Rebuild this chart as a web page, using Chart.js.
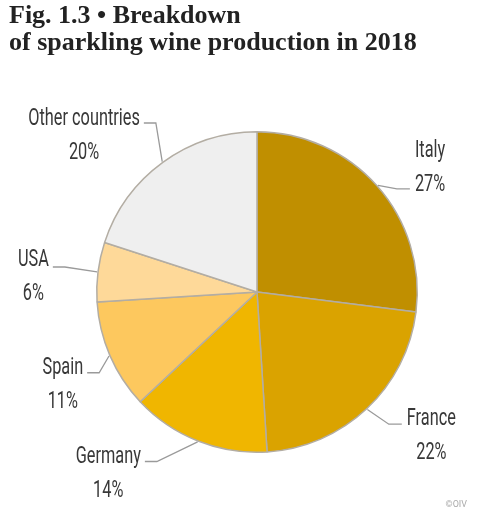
<!DOCTYPE html>
<html>
<head>
<meta charset="utf-8">
<script src="https://cdn.jsdelivr.net/npm/chart.js@4"></script>
<style>
  html, body { margin: 0; padding: 0; background: #fff; }
  #wrap { position: relative; width: 484px; height: 514px; }
  #title { position: absolute; left: 9px; top: 1px; font: bold 26px "Liberation Serif", "DejaVu Serif", serif; line-height: 27px; color: #222; white-space: nowrap; }
  canvas { position: absolute; left: 0; top: 0; }
</style>
</head>
<body>
<div id="wrap">
  <canvas id="c" width="484" height="514"></canvas>
  <div id="title">Fig. 1.3 • Breakdown<br>of sparkling wine production in 2018</div>
</div>
<script>
const categories = ["Italy", "France", "Germany", "Spain", "USA", "Other countries"];
const shares = [27, 22, 14, 11, 6, 20];
const percentLabels = ["27%", "22%", "14%", "11%", "6%", "20%"];

const sliceColors = ["#C08F00", "#DAA300", "#F0B600", "#FDC85E", "#FED999", "#EFEFEF"];
// label layout: angle shift (deg) from slice middle, radius factor, leader y offset vs. label block centre
const labelLayout = [
  { da: 5.1,   rf: 1.34,  ly: 24 },
  { da: -7.8,  rf: 1.40,  ly: -9 },
  { da: 18.2,  rf: 1.45,  ly: -9 },
  { da: -1.4,  rf: 1.335, ly: -9 },
  { da: -2.6,  rf: 1.40,  ly: -7 },
  { da: -11.4, rf: 1.466, ly: -10 }
];
const SQUEEZE = 0.68;

const labelPlugin = {
  id: 'outerLabels',
  afterDatasetsDraw(chart) {
    const ctx = chart.ctx;
    const meta = chart.getDatasetMeta(0);
    ctx.save();
    ctx.font = '24px "Roboto", "Liberation Sans", sans-serif';
    meta.data.forEach((arc, i) => {
      const p = arc.getProps(['x', 'y', 'startAngle', 'endAngle', 'outerRadius'], true);
      const mid = (p.startAngle + p.endAngle) / 2;
      const L = labelLayout[i];
      const la = mid + L.da * Math.PI / 180;
      const R = p.outerRadius * L.rf;
      const cx = p.x + R * Math.cos(la);
      const cy = p.y + R * Math.sin(la);
      const name = categories[i];
      const pct = percentLabels[i];
      const w = SQUEEZE * Math.max(ctx.measureText(name).width, ctx.measureText(pct).width);
      const right = cx > p.x;
      // leader
      const ex = p.x + (p.outerRadius + 1) * Math.cos(mid);
      const ey = p.y + (p.outerRadius + 1) * Math.sin(mid);
      const lyy = cy + L.ly;
      const endX = right ? cx - w / 2 - 5 : cx + w / 2 + 4;
      const elbX = right ? endX - 13 : endX + 12;
      ctx.strokeStyle = '#9a9a9a';
      ctx.lineWidth = 1.3;
      ctx.beginPath();
      ctx.moveTo(ex, ey);
      ctx.lineTo(elbX, lyy);
      ctx.lineTo(endX, lyy);
      ctx.stroke();
      // text (condensed)
      ctx.fillStyle = '#383838';
      ctx.textAlign = 'center';
      ctx.textBaseline = 'alphabetic';
      [[name, cy - 8], [pct, cy + 26]].forEach(([t, by]) => {
        ctx.save();
        ctx.translate(cx, by);
        ctx.scale(SQUEEZE, 1);
        ctx.fillText(t, 0, 0);
        ctx.restore();
      });
    });
    ctx.font = '9px "Roboto", sans-serif';
    ctx.fillStyle = '#aaa';
    ctx.textAlign = 'right';
    ctx.textBaseline = 'middle';
    ctx.fillText('©OIV', 467, 505);
    ctx.restore();
  }
};

new Chart(document.getElementById('c'), {
  type: 'pie',
  data: {
    labels: categories,
    datasets: [{
      data: shares,
      backgroundColor: sliceColors,
      borderColor: '#b3ada3',
      borderWidth: 1.5,
      hoverOffset: 0,
      offset: 0
    }]
  },
  options: {
    responsive: false,
    animation: false,
    devicePixelRatio: 1,
    layout: { padding: { left: 96, right: 66, top: 131, bottom: 61 } },
    plugins: { legend: { display: false }, tooltip: { enabled: false }, title: { display: false } }
  },
  plugins: [labelPlugin]
});
</script>
</body>
</html>
